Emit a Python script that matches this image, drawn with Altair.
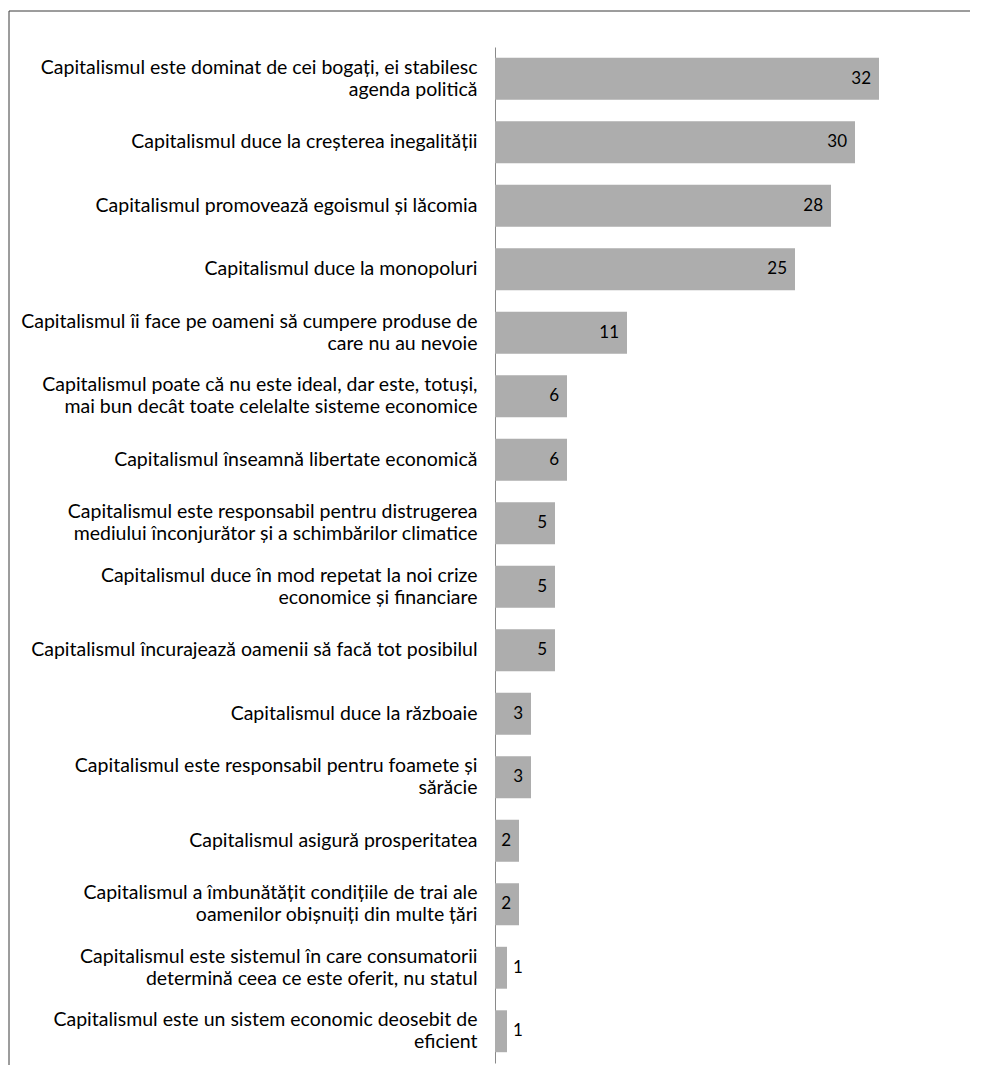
import altair as alt
import pandas as pd

categories = [
    "Capitalismul este dominat de cei bogați, ei stabilesc|agenda politică",
    "Capitalismul duce la creșterea inegalității",
    "Capitalismul promovează egoismul și lăcomia",
    "Capitalismul duce la monopoluri",
    "Capitalismul îi face pe oameni să cumpere produse de|care nu au nevoie",
    "Capitalismul poate că nu este ideal, dar este, totuși,|mai bun decât toate celelalte sisteme economice",
    "Capitalismul înseamnă libertate economică",
    "Capitalismul este responsabil pentru distrugerea|mediului înconjurător și a schimbărilor climatice",
    "Capitalismul duce în mod repetat la noi crize|economice și financiare",
    "Capitalismul încurajează oamenii să facă tot posibilul",
    "Capitalismul duce la războaie",
    "Capitalismul este responsabil pentru foamete și|sărăcie",
    "Capitalismul asigură prosperitatea",
    "Capitalismul a îmbunătățit condițiile de trai ale|oamenilor obișnuiți din multe țări",
    "Capitalismul este sistemul în care consumatorii|determină ceea ce este oferit, nu statul",
    "Capitalismul este un sistem economic deosebit de|eficient",
]
values = [32, 30, 28, 25, 11, 6, 6, 5, 5, 5, 3, 3, 2, 2, 1, 1]

df = pd.DataFrame({"cat": categories, "val": values})

FONT = "Lato"

y_enc = alt.Y(
    "cat:N",
    sort=categories,
    scale=alt.Scale(paddingInner=0.34, paddingOuter=0.17),
    axis=alt.Axis(
        title=None,
        ticks=False,
        domainColor="#8a8a8a",
        domainWidth=1,
        labelPadding=18,
        labelFont=FONT,
        labelFontSize=19.5,
        labelColor="#000000",
        labelLineHeight=22,
        labelLimit=0,
        labelBaseline=alt.condition("indexof(datum.value, '|') >= 0", alt.value("line-bottom"), alt.value("middle")),
        labelExpr="split(datum.label, '|')",
    ),
)
x_enc = alt.X("val:Q", scale=alt.Scale(domain=[0, 39], nice=False), axis=None)

base = alt.Chart(df)

bars = base.mark_bar(color="#ADADAD").encode(x=x_enc, y=y_enc)

text_in = base.transform_filter("datum.val >= 2").mark_text(
    align="right", baseline="middle", dx=-8, font=FONT, fontSize=17, color="#000000"
).encode(x=x_enc, y=y_enc, text="val:Q")

text_out = base.transform_filter("datum.val < 2").mark_text(
    align="left", baseline="middle", dx=6, font=FONT, fontSize=17, color="#000000"
).encode(x=x_enc, y=y_enc, text="val:Q")

frame_df = pd.DataFrame({"k": [0]})
frame_left = alt.Chart(frame_df).mark_rule(color="#3a3a3a", strokeWidth=1).encode(
    x=alt.value(-486), y=alt.value(-36), y2=alt.value(1018)
)
frame_top = alt.Chart(frame_df).mark_rule(color="#3a3a3a", strokeWidth=1).encode(
    y=alt.value(-36), x=alt.value(-486), x2=alt.value(475)
)

chart = (
    alt.layer(bars, text_in, text_out, frame_left, frame_top)
    .properties(width=468, height=1016, background="#ffffff",
                padding={"top": 2, "left": 0, "right": 0, "bottom": 0})
    .configure_view(strokeWidth=0, stroke="transparent")
)

chart.save("out.html", embed_options={"renderer": "svg", "actions": False})
